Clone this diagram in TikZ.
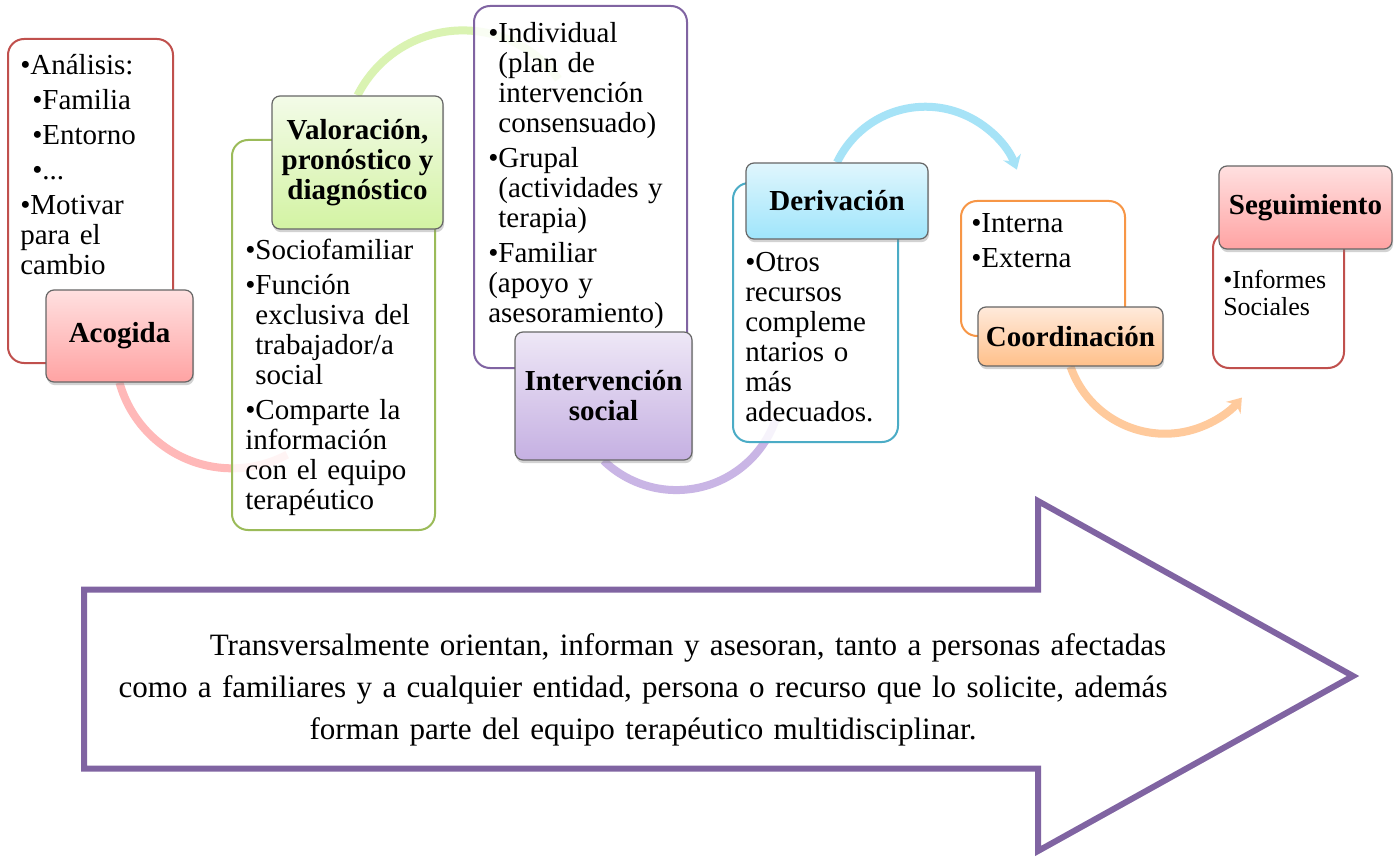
\documentclass[tikz,border=0pt]{standalone}
\usepackage{fontspec}
\setmainfont{Liberation Serif}
\usetikzlibrary{arrows.meta,shadows,backgrounds}

\definecolor{rojoA}{HTML}{C0504D}
\definecolor{rojoT}{HTML}{FFE0E0}
\definecolor{rojoB}{HTML}{FFA3A3}
\definecolor{verdeA}{HTML}{9BBB59}
\definecolor{verdeT}{HTML}{F3FBE8}
\definecolor{verdeB}{HTML}{D3F3A3}
\definecolor{moradoA}{HTML}{8064A2}
\definecolor{moradoT}{HTML}{EEE7F6}
\definecolor{moradoB}{HTML}{C5B0E2}
\definecolor{azulA}{HTML}{4BACC6}
\definecolor{azulT}{HTML}{E0F6FD}
\definecolor{azulB}{HTML}{9FE5FB}
\definecolor{naranjaA}{HTML}{F79646}
\definecolor{naranjaT}{HTML}{FFEADB}
\definecolor{naranjaB}{HTML}{FFC08A}
\definecolor{rosaC}{HTML}{FFB8B8}
\definecolor{verdeC}{HTML}{DAF3B2}
\definecolor{moradoC}{HTML}{C9B5E5}
\definecolor{azulC}{HTML}{A6E3F7}
\definecolor{naranjaC}{HTML}{FFCA9C}

\newcommand{\boxfont}{\fontsize{21.75pt}{22.5pt}\selectfont}
\newcommand{\headfont}{\fontsize{21.75pt}{22.5pt}\selectfont\bfseries}
\newcommand{\smallboxfont}{\fontsize{19.5pt}{20.25pt}\selectfont}
\newcommand{\notefont}{\fontsize{23.3pt}{31.5pt}\selectfont}
\newlength{\bulw}
\newcommand{\itm}[1]{\par\settowidth{\bulw}{•}\hangindent=\bulw\hangafter=1\noindent\strut\makebox[\bulw][l]{•}#1}
\newcommand{\subitm}[1]{\par\settowidth{\bulw}{•}\noindent\strut\hspace*{9pt}\makebox[\bulw][l]{•}#1}

\begin{document}
\begin{tikzpicture}[x=0.75pt,y=-0.75pt,
    caja/.style={draw=#1A, line width=1.5pt, rounded corners=12pt, fill=white, fill opacity=0.85, inner sep=0pt},
    cabecera/.style={draw=black!60, line width=0.9pt, rounded corners=6pt, top color=#1T, bottom color=#1B,
        drop shadow={opacity=0.35, shadow xshift=0.8pt, shadow yshift=-2.4pt},
        font=\headfont, align=center, inner sep=2pt},
    lista/.style={anchor=north west, inner sep=0pt, text width=170pt, align=left, font=\boxfont,
        execute at begin node={\setlength{\parskip}{3.75pt}}},
    arco/.style={line width=6pt, draw=#1},
    flecha/.style={draw=moradoA, line width=4.5pt, line join=miter}]

    \useasboundingbox (0,0) rectangle (1399,859);

    % 设置列表框
    \node[caja=rojo,    minimum width=123.75pt, minimum height=243pt]   (acogbox)  at (90.5,201)   {};
    \node[caja=verde,   minimum width=152.25pt, minimum height=292.5pt] (valbox)   at (333.5,335)  {};
    \node[caja=morado,  minimum width=159.75pt, minimum height=271.5pt] (intbox)   at (580.5,187)  {};
    \node[caja=azul,    minimum width=123.75pt, minimum height=194.25pt] (derbox)  at (815.5,312.5) {};
    \node[caja=naranja, minimum width=123pt,    minimum height=101.25pt] (coorbox) at (1043,268.5) {};
    \node[caja=rojo,    minimum width=98.25pt,  minimum height=102pt]   (segbox)   at (1278.5,300) {};

    % 设置标题
    \node[cabecera=rojo,    minimum width=110.25pt, minimum height=69pt]    (acogida)      at (119.5,336)  {Acogida};
    \node[cabecera=verde,   minimum width=128.25pt, minimum height=99.75pt] (valoracion)   at (357.5,162.5) {Valoración,\\pronóstico y\\diagnóstico};
    \node[cabecera=morado,  minimum width=132.75pt, minimum height=96pt]    (intervencion) at (603.5,396)  {Intervención\\social};
    \node[cabecera=azul,    minimum width=136.5pt,  minimum height=57pt]    (derivacion)   at (837,201)    {Derivación};
    \node[cabecera=naranja, minimum width=138.75pt, minimum height=44.25pt] (coordinacion) at (1070.5,336.5) {Coordinación};
    \node[cabecera=rojo,    minimum width=129.75pt, minimum height=62.25pt] (seguimiento)  at (1305.5,207.5) {Seguimiento};

    % 列表文字
    \node[lista] (acogtxt) at (20,39)  {\itm{Análisis:}\subitm{Familia}\subitm{Entorno}\subitm{...}\itm{Motivar\newline para el\newline cambio}};
    \node[lista] (valtxt)  at (245,224) {\itm{Sociofamiliar}\itm{Función\newline exclusiva del\newline trabajador/a\newline social}\itm{Comparte la\newline información\newline con el equipo\newline terapéutico}};
    \node[lista] (inttxt)  at (488,7)   {\itm{Individual\newline (plan de\newline intervención\newline consensuado)}\itm{Grupal\newline (actividades y\newline terapia)}\itm{Familiar\newline (apoyo y\newline asesoramiento)}};
    \node[lista] (dertxt)  at (745,236) {\itm{Otros\newline recursos\newline compleme\newline ntarios o\newline más\newline adecuados.}};
    \node[lista] (coortxt) at (971,197) {\itm{Interna}\itm{Externa}};
    \node[lista, font=\smallboxfont] (segtxt) at (1223,256) {\itm{Informes\newline Sociales}};

    % 弧线
    \begin{scope}[on background layer]
        \fill[white] (0,0) rectangle (1399,859);
        \draw[arco=rosaC]    (acogida.south)      arc[start angle=164.5, end angle=62,  radius=117];
        \draw[arco=verdeC]   (valoracion.north)   arc[start angle=206.7, end angle=324, radius=118];
        \draw[arco=moradoC]  (intervencion.south) arc[start angle=134,   end angle=19,  radius=105];
        \draw[arco=azulC, -{Stealth[length=10pt,width=14pt]}]    (derivacion.north)   arc[start angle=205.6, end angle=339,  radius=98];
        \draw[arco=naranjaC, -{Stealth[length=10pt,width=14pt]}] (coordinacion.south) arc[start angle=160.8, end angle=39.7, radius=100];
    \end{scope}

    % 大箭头
    \draw[flecha] (84,589.5) -- (1038,589.5) -- (1038,501) -- (1353,676) -- (1038,851) -- (1038,768.5) -- (84,768.5) -- cycle;
    \node[font=\notefont, text width=825pt, align=center, inner sep=0pt] (nota) at (643,690)
        {\noindent\hspace*{67.5pt}Transversalmente orientan, informan y asesoran, tanto a personas afectadas\\como a familiares y a cualquier entidad, persona o recurso que lo solicite, además\\forman parte del equipo terapéutico multidisciplinar.};

\end{tikzpicture}
\end{document}
